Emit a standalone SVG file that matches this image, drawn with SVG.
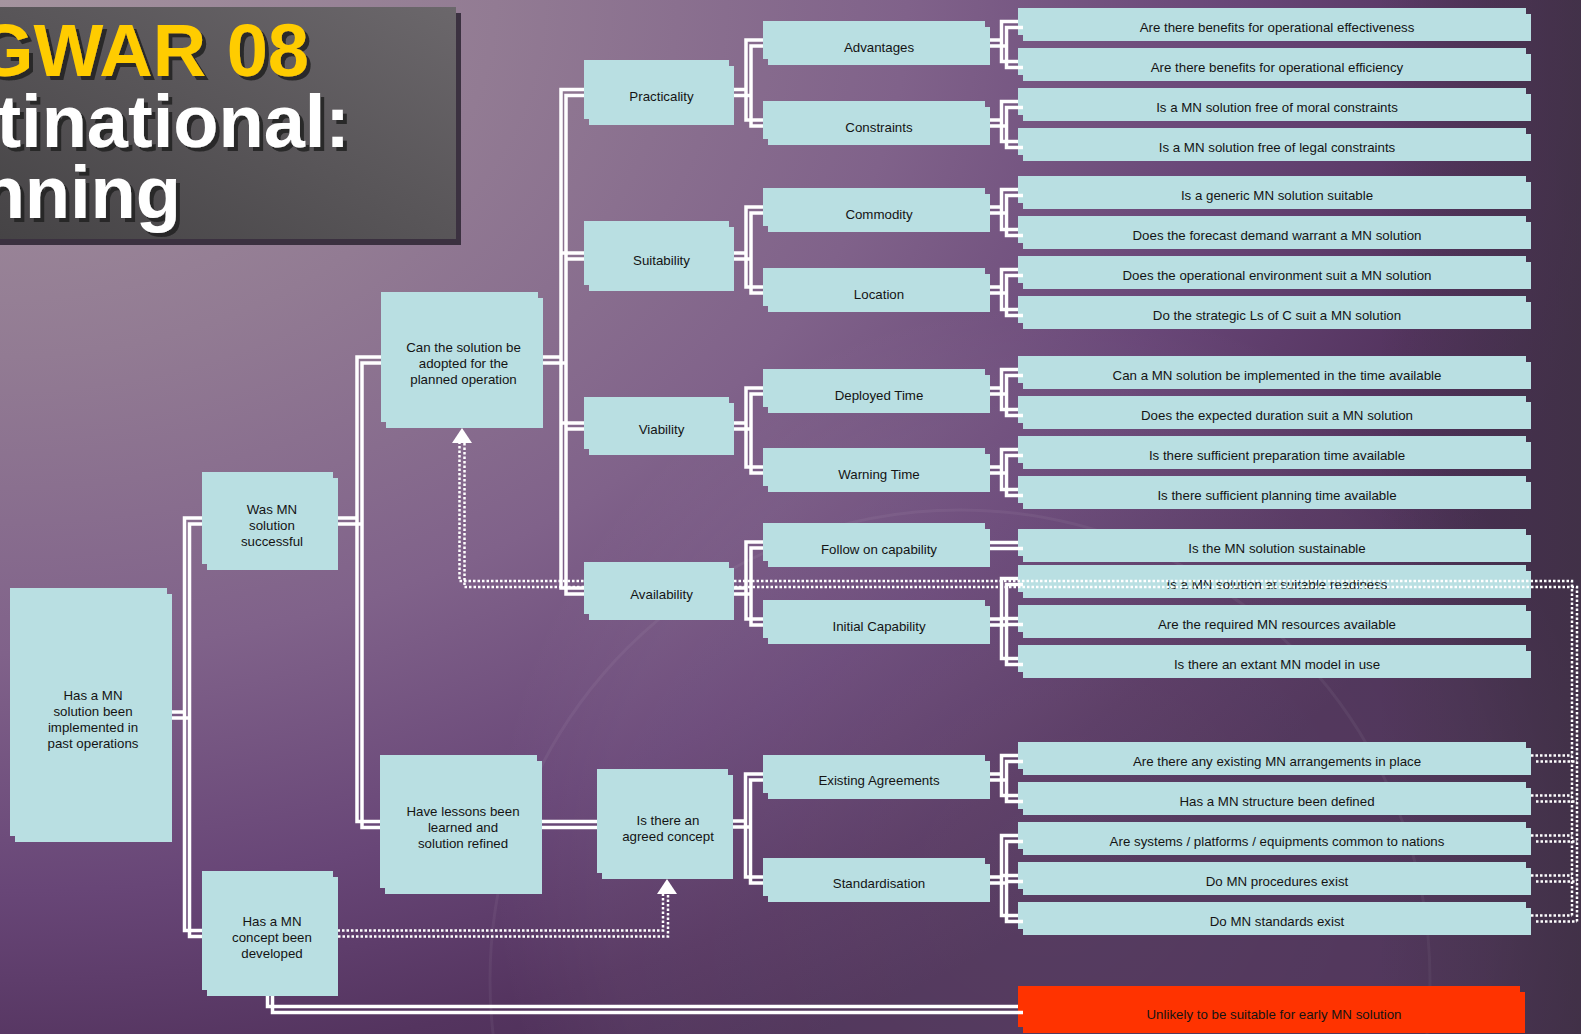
<svg xmlns="http://www.w3.org/2000/svg" xmlns:xlink="http://www.w3.org/1999/xlink" width="1581" height="1034" viewBox="0 0 1581 1034">
<defs>
<radialGradient id="bg" gradientUnits="userSpaceOnUse" cx="0" cy="0" r="1650" gradientTransform="scale(1,0.72)">
<stop offset="0" stop-color="#a5949f"/>
<stop offset="0.3" stop-color="#927b93"/>
<stop offset="0.55" stop-color="#80628a"/>
<stop offset="0.75" stop-color="#684677"/>
<stop offset="0.9" stop-color="#54345f"/>
<stop offset="1" stop-color="#4a2e55"/>
</radialGradient>
<linearGradient id="edge" x1="1380" y1="0" x2="1581" y2="0" gradientUnits="userSpaceOnUse">
<stop offset="0" stop-color="#3c3240" stop-opacity="0"/>
<stop offset="1" stop-color="#3c3240" stop-opacity="0.65"/>
</linearGradient>
<radialGradient id="emb" gradientUnits="userSpaceOnUse" cx="1050" cy="860" r="560">
<stop offset="0" stop-color="#ffffff" stop-opacity="0.07"/>
<stop offset="0.8" stop-color="#ffffff" stop-opacity="0.04"/>
<stop offset="1" stop-color="#ffffff" stop-opacity="0"/>
</radialGradient>
<linearGradient id="tg" x1="0" y1="1" x2="1" y2="0">
<stop offset="0" stop-color="#454345"/>
<stop offset="1" stop-color="#6b676b"/>
</linearGradient>
<filter id="ts" x="-10%" y="-10%" width="130%" height="140%">
<feDropShadow dx="4" dy="4" stdDeviation="0.6" flood-color="#242424" flood-opacity="0.9"/>
</filter>
<style>
.b{fill:#b9dfe2}
.r{fill:#ff3300}
.t{font-family:"Liberation Sans",Arial,sans-serif;font-size:13.3px;fill:#141414;text-anchor:middle}
.c{fill:none;stroke:#ffffff;stroke-width:3.5}
.d{fill:none;stroke:#ffffff;stroke-width:2.5;stroke-dasharray:2.5 2}
.ttl{font-family:"Liberation Sans",Arial,sans-serif;font-weight:bold;font-size:74px;text-anchor:end;filter:url(#ts)}
</style>
</defs>

<g id="background">
<rect x="0" y="0" width="1581" height="1034" fill="url(#bg)"/>
<circle cx="1050" cy="860" r="560" fill="url(#emb)"/>
<circle cx="960" cy="980" r="470" fill="none" stroke="#ffffff" stroke-opacity="0.05" stroke-width="3"/>
<rect x="1380" y="0" width="201" height="1034" fill="url(#edge)"/>
</g>

<g id="title">
<rect x="-10" y="13" width="471" height="232" fill="#3b3140"/>
<rect x="-10" y="7" width="466" height="232" fill="url(#tg)"/>
<text class="ttl" x="309" y="76" fill="#ffcc00">GWAR 08</text>
<text class="ttl" x="350" y="147" fill="#ffffff">tinational:</text>
<text class="ttl" x="181" y="218" fill="#ffffff">nning</text>
</g>

<g id="questions">
<g id="q1"><rect class="b" x="1018" y="8" width="508" height="27"/><rect class="b" x="1023" y="14" width="508" height="27"/><text class="t" x="1277" y="32">Are there benefits for operational effectiveness</text></g>
<g id="q2"><rect class="b" x="1018" y="48" width="508" height="27"/><rect class="b" x="1023" y="54" width="508" height="27"/><text class="t" x="1277" y="72">Are there benefits for operational efficiency</text></g>
<g id="q3"><rect class="b" x="1018" y="88" width="508" height="27"/><rect class="b" x="1023" y="94" width="508" height="27"/><text class="t" x="1277" y="112">Is a MN solution free of moral constraints</text></g>
<g id="q4"><rect class="b" x="1018" y="128" width="508" height="27"/><rect class="b" x="1023" y="134" width="508" height="27"/><text class="t" x="1277" y="152">Is a MN solution free of legal constraints</text></g>
<g id="q5"><rect class="b" x="1018" y="176" width="508" height="27"/><rect class="b" x="1023" y="182" width="508" height="27"/><text class="t" x="1277" y="200">Is a generic MN solution suitable</text></g>
<g id="q6"><rect class="b" x="1018" y="216" width="508" height="27"/><rect class="b" x="1023" y="222" width="508" height="27"/><text class="t" x="1277" y="240">Does the forecast demand warrant a MN solution</text></g>
<g id="q7"><rect class="b" x="1018" y="256" width="508" height="27"/><rect class="b" x="1023" y="262" width="508" height="27"/><text class="t" x="1277" y="280">Does the operational environment suit a MN solution</text></g>
<g id="q8"><rect class="b" x="1018" y="296" width="508" height="27"/><rect class="b" x="1023" y="302" width="508" height="27"/><text class="t" x="1277" y="320">Do the strategic Ls of C suit a MN solution</text></g>
<g id="q9"><rect class="b" x="1018" y="356" width="508" height="27"/><rect class="b" x="1023" y="362" width="508" height="27"/><text class="t" x="1277" y="380">Can a MN solution be implemented in the time available</text></g>
<g id="q10"><rect class="b" x="1018" y="396" width="508" height="27"/><rect class="b" x="1023" y="402" width="508" height="27"/><text class="t" x="1277" y="420">Does the expected duration suit a MN solution</text></g>
<g id="q11"><rect class="b" x="1018" y="436" width="508" height="27"/><rect class="b" x="1023" y="442" width="508" height="27"/><text class="t" x="1277" y="460">Is there sufficient preparation time available</text></g>
<g id="q12"><rect class="b" x="1018" y="476" width="508" height="27"/><rect class="b" x="1023" y="482" width="508" height="27"/><text class="t" x="1277" y="500">Is there sufficient planning time available</text></g>
<g id="q13"><rect class="b" x="1018" y="529" width="508" height="27"/><rect class="b" x="1023" y="535" width="508" height="27"/><text class="t" x="1277" y="553">Is the MN solution sustainable</text></g>
<g id="q14"><rect class="b" x="1018" y="565" width="508" height="27"/><rect class="b" x="1023" y="571" width="508" height="27"/><text class="t" x="1277" y="589">Is a MN solution at suitable readiness</text></g>
<g id="q15"><rect class="b" x="1018" y="605" width="508" height="27"/><rect class="b" x="1023" y="611" width="508" height="27"/><text class="t" x="1277" y="629">Are the required MN resources available</text></g>
<g id="q16"><rect class="b" x="1018" y="645" width="508" height="27"/><rect class="b" x="1023" y="651" width="508" height="27"/><text class="t" x="1277" y="669">Is there an extant MN model in use</text></g>
<g id="q17"><rect class="b" x="1018" y="742" width="508" height="27"/><rect class="b" x="1023" y="748" width="508" height="27"/><text class="t" x="1277" y="766">Are there any existing MN arrangements in place</text></g>
<g id="q18"><rect class="b" x="1018" y="782" width="508" height="27"/><rect class="b" x="1023" y="788" width="508" height="27"/><text class="t" x="1277" y="806">Has a MN structure been defined</text></g>
<g id="q19"><rect class="b" x="1018" y="822" width="508" height="27"/><rect class="b" x="1023" y="828" width="508" height="27"/><text class="t" x="1277" y="846">Are systems / platforms / equipments common to nations</text></g>
<g id="q20"><rect class="b" x="1018" y="862" width="508" height="27"/><rect class="b" x="1023" y="868" width="508" height="27"/><text class="t" x="1277" y="886">Do MN procedures exist</text></g>
<g id="q21"><rect class="b" x="1018" y="902" width="508" height="27"/><rect class="b" x="1023" y="908" width="508" height="27"/><text class="t" x="1277" y="926">Do MN standards exist</text></g>
<g id="unlikely"><rect class="r" x="1018" y="986" width="502" height="41"/><rect class="r" x="1023" y="992" width="502" height="41"/><text class="t" x="1274" y="1019">Unlikely to be suitable for early MN solution</text></g>
</g>

<g id="connectors">
<g id="conn">
<path class="c" d="M167 712H184.5V518H202M167 712H184.5V930.5H202"/>
<path class="c" d="M333 518H357V357H381M333 518H357V821.5H380"/>
<path class="c" d="M538 357H561V89.5H584M538 357H561V253H584M538 357H561V423H584M538 357H561V588H584"/>
<path class="c" d="M729 89.5H746V40H763M729 89.5H746V120H763"/>
<path class="c" d="M729 253H746V207H763M729 253H746V287H763"/>
<path class="c" d="M729 423H746V388H763M729 423H746V467H763"/>
<path class="c" d="M729 588H746V542H763M729 588H746V619H763"/>
<path class="c" d="M537 821.5H597"/>
<path class="c" d="M728 821H745.5V774H763M728 821H745.5V877H763"/>
<path class="c" d="M985 40H1001.5V21.5H1018M985 40H1001.5V61.5H1018"/>
<path class="c" d="M985 120H1001.5V101.5H1018M985 120H1001.5V141.5H1018"/>
<path class="c" d="M985 207H1001.5V189.5H1018M985 207H1001.5V229.5H1018"/>
<path class="c" d="M985 287H1001.5V269.5H1018M985 287H1001.5V309.5H1018"/>
<path class="c" d="M985 388H1001.5V369.5H1018M985 388H1001.5V409.5H1018"/>
<path class="c" d="M985 467H1001.5V449.5H1018M985 467H1001.5V489.5H1018"/>
<path class="c" d="M985 542.5H1018"/>
<path class="c" d="M985 619H1001.5V578.5H1018M985 619H1001.5V618.5H1018M985 619H1001.5V658.5H1018"/>
<path class="c" d="M985 774H1001.5V755.5H1018M985 774H1001.5V795.5H1018"/>
<path class="c" d="M985 877H1001.5V835.5H1018M985 877H1001.5V875.5H1018M985 877H1001.5V915.5H1018"/>
<path class="c" d="M267.5 990V1006.5H1018"/>
<path class="d" d="M1531 755.5H1572M1531 795.5H1572M1531 835.5H1572M1531 875.5H1572M1531 915.5H1572"/>
<path class="d" d="M1572 915.5V581H459.5V437"/>
<path class="d" d="M333 930.5H663V888"/>
</g>
<use xlink:href="#conn" href="#conn" transform="translate(5,6)"/>
<polygon points="462,428 452,443 472,443" fill="#ffffff"/>
<polygon points="667,879 657,894 677,894" fill="#ffffff"/>
</g>

<g id="nodes">
<g id="root"><rect class="b" x="10" y="588" width="157" height="248"/><rect class="b" x="15" y="594" width="157" height="248"/><text class="t" x="93" y="699.5">Has a MN</text><text class="t" x="93" y="715.5">solution been</text><text class="t" x="93" y="731.5">implemented in</text><text class="t" x="93" y="747.5">past operations</text></g>
<g id="was"><rect class="b" x="202" y="472" width="131" height="92"/><rect class="b" x="207" y="478" width="131" height="92"/><text class="t" x="272" y="514">Was MN</text><text class="t" x="272" y="530">solution</text><text class="t" x="272" y="546">successful</text></g>
<g id="concept"><rect class="b" x="202" y="871" width="131" height="119"/><rect class="b" x="207" y="877" width="131" height="119"/><text class="t" x="272" y="926">Has a MN</text><text class="t" x="272" y="942">concept been</text><text class="t" x="272" y="958">developed</text></g>
<g id="can"><rect class="b" x="381" y="292" width="157" height="130"/><rect class="b" x="386" y="298" width="157" height="130"/><text class="t" x="463.5" y="352">Can the solution be</text><text class="t" x="463.5" y="368">adopted for the</text><text class="t" x="463.5" y="384">planned operation</text></g>
<g id="lessons"><rect class="b" x="380" y="755" width="157" height="133"/><rect class="b" x="385" y="761" width="157" height="133"/><text class="t" x="463" y="816">Have lessons been</text><text class="t" x="463" y="832">learned and</text><text class="t" x="463" y="848">solution refined</text></g>
<g id="agreed"><rect class="b" x="597" y="769" width="131" height="104"/><rect class="b" x="602" y="775" width="131" height="104"/><text class="t" x="668" y="824.5">Is there an</text><text class="t" x="668" y="840.5">agreed concept</text></g>
<g id="practicality"><rect class="b" x="584" y="60" width="145" height="59"/><rect class="b" x="589" y="66" width="145" height="59"/><text class="t" x="661.5" y="101">Practicality</text></g>
<g id="suitability"><rect class="b" x="584" y="221" width="145" height="64"/><rect class="b" x="589" y="227" width="145" height="64"/><text class="t" x="661.5" y="264.5">Suitability</text></g>
<g id="viability"><rect class="b" x="584" y="397" width="145" height="52"/><rect class="b" x="589" y="403" width="145" height="52"/><text class="t" x="661.5" y="434">Viability</text></g>
<g id="availability"><rect class="b" x="584" y="562" width="145" height="52"/><rect class="b" x="589" y="568" width="145" height="52"/><text class="t" x="661.5" y="599">Availability</text></g>
<g id="advantages"><rect class="b" x="763" y="21" width="222" height="38"/><rect class="b" x="768" y="27" width="222" height="38"/><text class="t" x="879" y="51.5">Advantages</text></g>
<g id="constraints"><rect class="b" x="763" y="101" width="222" height="38"/><rect class="b" x="768" y="107" width="222" height="38"/><text class="t" x="879" y="131.5">Constraints</text></g>
<g id="commodity"><rect class="b" x="763" y="188" width="222" height="38"/><rect class="b" x="768" y="194" width="222" height="38"/><text class="t" x="879" y="218.5">Commodity</text></g>
<g id="location"><rect class="b" x="763" y="268" width="222" height="38"/><rect class="b" x="768" y="274" width="222" height="38"/><text class="t" x="879" y="298.5">Location</text></g>
<g id="deployed"><rect class="b" x="763" y="369" width="222" height="38"/><rect class="b" x="768" y="375" width="222" height="38"/><text class="t" x="879" y="399.5">Deployed Time</text></g>
<g id="warning"><rect class="b" x="763" y="448" width="222" height="38"/><rect class="b" x="768" y="454" width="222" height="38"/><text class="t" x="879" y="478.5">Warning Time</text></g>
<g id="followon"><rect class="b" x="763" y="523" width="222" height="38"/><rect class="b" x="768" y="529" width="222" height="38"/><text class="t" x="879" y="553.5">Follow on capability</text></g>
<g id="initial"><rect class="b" x="763" y="600" width="222" height="38"/><rect class="b" x="768" y="606" width="222" height="38"/><text class="t" x="879" y="630.5">Initial Capability</text></g>
<g id="existing"><rect class="b" x="763" y="755" width="222" height="38"/><rect class="b" x="768" y="761" width="222" height="38"/><text class="t" x="879" y="785">Existing Agreements</text></g>
<g id="standardisation"><rect class="b" x="763" y="858" width="222" height="38"/><rect class="b" x="768" y="864" width="222" height="38"/><text class="t" x="879" y="888">Standardisation</text></g>
</g>
</svg>
